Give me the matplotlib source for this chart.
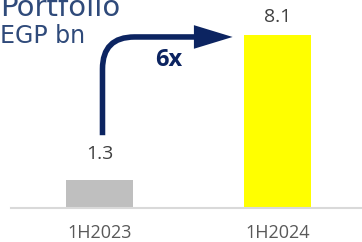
import matplotlib.pyplot as plt

PERIODS = ["1H2023", "1H2024"]
PORTFOLIO = [1.3, 8.1]
BAR_COLORS = ["#bfbfbf", "#ffff00"]

NAVY = "#0c2461"
TITLE_BLUE = "#2f4a7a"
LABEL_GRAY = "#404040"
TICK_GRAY = "#595959"


def run() -> None:
    fig = plt.figure(figsize=(3.62, 2.42), dpi=100)
    ax = fig.add_axes((11 / 362, 34.5 / 242, 351 / 362, 202 / 242))

    x = list(range(len(PERIODS)))
    ax.bar(x, PORTFOLIO, width=0.376, color=BAR_COLORS, zorder=2)

    ax.set_xlim(-0.497, 1.475)
    ax.set_ylim(0, 9.5)
    for side in ("top", "right", "left"):
        ax.spines[side].set_visible(False)
    ax.spines["bottom"].set_color("#d9d9d9")
    ax.spines["bottom"].set_linewidth(1.5)
    ax.set_yticks([])
    ax.set_xticks(x, labels=PERIODS)
    ax.tick_params(axis="x", length=0, pad=12, labelsize=13,
                   labelcolor=TICK_GRAY)
    for t in ax.get_xticklabels():
        t.set_fontfamily("Open Sans")

    # value labels above bars
    for xi, v, pad in zip(x, PORTFOLIO, [12, 7]):
        ax.annotate(f"{v:.1f}", xy=(xi, v), xytext=(0, pad),
                    textcoords="offset points", ha="center", va="bottom",
                    fontsize=14, color=LABEL_GRAY, family="Open Sans")

    # growth arrow from the 2023 bar to the 2024 bar
    ax.annotate(
        "", xy=(0.748, PORTFOLIO[1] - 0.08), xytext=(0.017, PORTFOLIO[0] + 2.1),
        arrowprops=dict(
            arrowstyle="-|>,head_length=19,head_width=5.8",
            mutation_scale=1,
            connectionstyle="angle,angleA=90,angleB=0,rad=32",
            lw=4, color=NAVY, shrinkA=0, shrinkB=0,
            joinstyle="miter", capstyle="butt",
        ),
    )
    ax.text(0.39, 6.94, f"{PORTFOLIO[1] / PORTFOLIO[0]:.0f}x",
            ha="center", va="center", fontsize=17, fontweight="bold",
            color=NAVY, family="Open Sans")

    fig.text(0, 242 - 15.7, "Portfolio", transform=None, fontsize=21,
             color=TITLE_BLUE, va="baseline", ha="left")
    fig.text(0, 242 - 43, "EGP bn", transform=None, fontsize=17,
             color=TITLE_BLUE, va="baseline", ha="left")

    fig.savefig("out.png", dpi=100)
    plt.close(fig)


if __name__ == "__main__":
    run()
